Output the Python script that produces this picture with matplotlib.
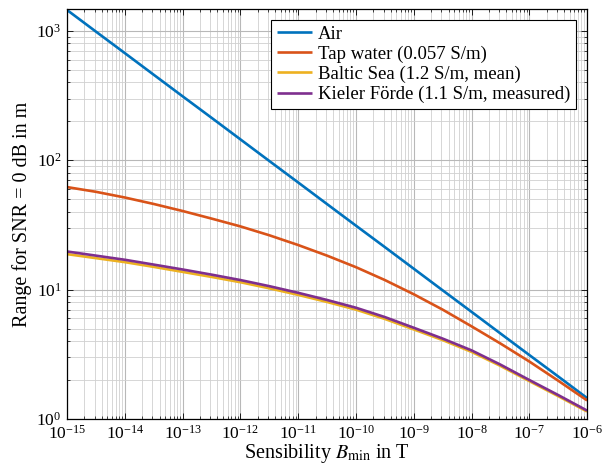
import numpy as np
import matplotlib
matplotlib.use("Agg")
import matplotlib.pyplot as plt
from matplotlib.ticker import LogLocator, NullFormatter

plt.rcParams['font.family'] = ['Liberation Serif', 'DejaVu Serif']
plt.rcParams['mathtext.fontset'] = 'stix'

# sensibility B_min in T (half decades)
b_min = [1e-15, 10**-14.5, 1e-14, 10**-13.5, 1e-13, 10**-12.5, 1e-12, 10**-11.5,
         1e-11, 10**-10.5, 1e-10, 10**-9.5, 1e-9, 10**-8.5, 1e-8, 10**-7.5,
         1e-7, 10**-6.5, 1e-6]

# range for SNR = 0 dB in m
r_air = [1450, 987, 673, 458, 312, 213, 145, 98.7, 67.3, 45.8, 31.2, 21.3,
         14.5, 9.87, 6.73, 4.58, 3.12, 2.13, 1.45]
r_tap = [62, 57.0, 51.5, 45.9, 40.5, 35.4, 30.8, 26.3, 22.1, 18.3, 14.9, 11.85,
         9.2, 7.0, 5.2, 3.83, 2.78, 1.975, 1.39]
r_baltic = [18.8, 17.5, 16.3, 14.98, 13.7, 12.53, 11.4, 10.23, 9.1, 8.02, 7.0,
            5.93, 4.92, 4.07, 3.30, 2.57, 1.96, 1.50, 1.14]
r_kiel = [19.7, 18.3, 17.0, 15.6, 14.3, 13.05, 11.85, 10.63, 9.44, 8.31, 7.24,
          6.13, 5.07, 4.18, 3.39, 2.63, 2.0, 1.53, 1.16]

labels = ["Air", "Tap water (0.057 S/m)", "Baltic Sea (1.2 S/m, mean)",
          "Kieler Förde (1.1 S/m, measured)"]
colors = ["#0072BD", "#D95319", "#EDB120", "#7E2F8E"]

fig = plt.figure(figsize=(6.04, 4.66), dpi=100)
ax = fig.add_axes([0.111, 0.101, 0.861, 0.880])

for r, lab, c in zip([r_air, r_tap, r_baltic, r_kiel], labels, colors):
    ax.plot(b_min, r, color=c, lw=1.9, label=lab, solid_capstyle='butt')

ax.set_xscale('log')
ax.set_yscale('log')
ax.set_xlim(1e-15, 1e-6)
ax.set_ylim(1, 1480)

ax.xaxis.set_major_locator(LogLocator(base=10, numticks=20))
ax.xaxis.set_minor_locator(LogLocator(base=10, subs=np.arange(2, 10), numticks=20))
ax.xaxis.set_minor_formatter(NullFormatter())
ax.yaxis.set_minor_formatter(NullFormatter())

ax.grid(True, which='major', color='#b8b8b8', lw=0.8)
ax.grid(True, which='minor', color='#d0d0d0', lw=0.6)
ax.set_axisbelow(True)

ax.tick_params(which='both', direction='in', top=True, right=True, labelsize=12.5)
ax.tick_params(axis='x', pad=4)
ax.tick_params(axis='y', pad=4)
ax.tick_params(which='major', length=4, width=0.6)
ax.tick_params(which='minor', length=2.5, width=0.5)
for s in ax.spines.values():
    s.set_linewidth(0.9)

ax.set_xlabel(r"Sensibility $B_{\mathrm{min}}$ in T", fontsize=14.5, labelpad=0)
ax.set_ylabel("Range for SNR = 0 dB in m", fontsize=14.5, labelpad=3)

leg = ax.legend(loc='upper right', fontsize=13.5, fancybox=False, framealpha=1,
                edgecolor='black', handlelength=1.9, borderaxespad=0.6,
                labelspacing=0.15, handletextpad=0.3, borderpad=0.3)
leg.get_frame().set_linewidth(0.8)

fig.savefig("out.png", dpi=100)
